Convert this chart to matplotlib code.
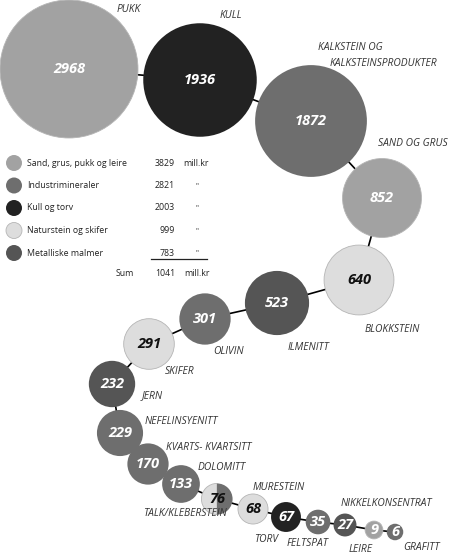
import numpy as np
import matplotlib
matplotlib.use('Agg')
import matplotlib.pyplot as plt
from matplotlib.patches import Circle, Wedge

plt.rcParams['font.family'] = ['Open Sans', 'DejaVu Sans']

# ─── DATA ─────────────────────────────────────────────────────────────────────
names = ['PUKK', 'KULL', 'KALKSTEIN OG\nKALKSTEINSPRODUKTER', 'SAND OG GRUS',
         'BLOKKSTEIN', 'ILMENITT', 'OLIVIN', 'SKIFER', 'JERN', 'NEFELINSYENITT',
         'KVARTS- KVARTSITT', 'DOLOMITT', 'TALK/KLEBERSTEIN', 'MURESTEIN', 'TORV',
         'FELTSPAT', 'NIKKELKONSENTRAT', 'LEIRE', 'GRAFITT']
values = [2968, 1936, 1872, 852, 640, 523, 301, 291, 232, 229,
          170, 133, 76, 68, 67, 35, 27, 9, 6]
# legend category of each bubble (TALK is split natur/industri)
groups = ['sand', 'kull', 'ind', 'sand', 'nat', 'met', 'ind', 'nat', 'met', 'ind',
          'ind', 'ind', 'nat+ind', 'nat', 'kull', 'ind', 'met', 'sand', 'ind']

legend_names = ['Sand, grus, pukk og leire', 'Industrimineraler', 'Kull og torv',
                'Naturstein og skifer', 'Metalliske malmer']
legend_keys = ['sand', 'ind', 'kull', 'nat', 'met']
legend_values = [3829, 2821, 2003, 999, 783]
legend_sum = 1041

# ─── LAYOUT (pixel coords, y down) ────────────────────────────────────────────
cx = [69, 200, 311, 382, 359, 277, 205, 149, 112, 120,
      148, 181, 217, 253, 286, 318, 345, 374, 395]
cy = [69, 80, 121, 198, 280, 303, 319, 344, 384, 433,
      464, 484, 499, 509, 517, 522, 525, 530, 532]
# label anchor (left x, centre y of first line)
lx = [117, 220, 318, 378, 365, 288, 213, 165, 142, 145,
      166, 198, 143, 253, 254, 287, 341, 349, 403]
ly = [10, 15, 48, 143, 330, 347, 351, 372, 396, 422,
      448, 468, 513, 488, 539, 544, 504, 550, 547]
LINE_STEP, LINE_INDENT = 15, 12

COLORS = {'sand': '#a2a2a2', 'ind': '#6e6e6e', 'kull': '#222222',
          'nat': '#dddddd', 'met': '#555555'}
EDGE_LIGHT = '#b5b5b5'
FS_LABEL, FS_LEGEND, FS_NUM = 7.4, 6.3, 10.5


def radius(v):
    # bubble size scale (px)
    return 5.4 + 1.167 * np.sqrt(v)


fig = plt.figure(figsize=(4.5, 5.54), dpi=100)
ax = fig.add_axes([0, 0, 1, 1])
ax.set_xlim(0, 450)
ax.set_ylim(554, 0)
ax.set_aspect('equal')
ax.axis('off')

# connecting line behind the bubbles
ax.plot(cx, cy, color='black', linewidth=1.2, zorder=1)

for name, v, g, x, y, tx, ty in zip(names, values, groups, cx, cy, lx, ly):
    r = radius(v)
    if g == 'nat+ind':
        ax.add_patch(Wedge((x, y), r, 90, 270, facecolor=COLORS['nat'],
                           edgecolor=EDGE_LIGHT, linewidth=0.6, zorder=2))
        ax.add_patch(Wedge((x, y), r, -90, 90, facecolor=COLORS['ind'],
                           edgecolor='none', zorder=2))
        tc = '#111111'
    else:
        ec = EDGE_LIGHT if g in ('nat', 'sand') else 'none'
        ax.add_patch(Circle((x, y), r, facecolor=COLORS[g], edgecolor=ec,
                            linewidth=0.6, zorder=2))
        tc = '#111111' if g == 'nat' else 'white'
    ax.text(x, y, str(v), ha='center', va='center', fontsize=FS_NUM,
            fontweight='bold', fontstyle='italic', color=tc, zorder=3)
    for k, line in enumerate(name.split('\n')):
        ax.text(tx + k * LINE_INDENT, ty + k * LINE_STEP, line, ha='left',
                va='center', fontsize=FS_LABEL, fontstyle='italic',
                color='#333333', zorder=3)

# legend block
for i, (lab, key, val) in enumerate(zip(legend_names, legend_keys, legend_values)):
    y = 163 + i * 22.5
    ec = EDGE_LIGHT if key == 'nat' else 'none'
    ax.add_patch(Circle((14, y), 8, facecolor=COLORS[key], edgecolor=ec,
                        linewidth=0.6, zorder=2))
    ax.text(27, y, lab, ha='left', va='center', fontsize=FS_LEGEND, color='#222222')
    ax.text(175, y, str(val), ha='right', va='center', fontsize=FS_LEGEND,
            color='#222222')
    if i == 0:
        ax.text(183, y, 'mill.kr', ha='left', va='center', fontsize=FS_LEGEND,
                color='#222222')
    else:
        ax.text(197, y, '"', ha='center', va='center', fontsize=FS_LEGEND - 1,
                color='#222222')

ax.plot([151, 207], [259, 259], color='#222222', linewidth=0.9)
ax.text(134, 274, 'Sum', ha='right', va='center', fontsize=FS_LEGEND, color='#222222')
ax.text(175, 274, str(legend_sum), ha='right', va='center', fontsize=FS_LEGEND,
        color='#222222')
ax.text(184, 274, 'mill.kr', ha='left', va='center', fontsize=FS_LEGEND,
        color='#222222')

fig.savefig('out.png', dpi=100, facecolor='white')
